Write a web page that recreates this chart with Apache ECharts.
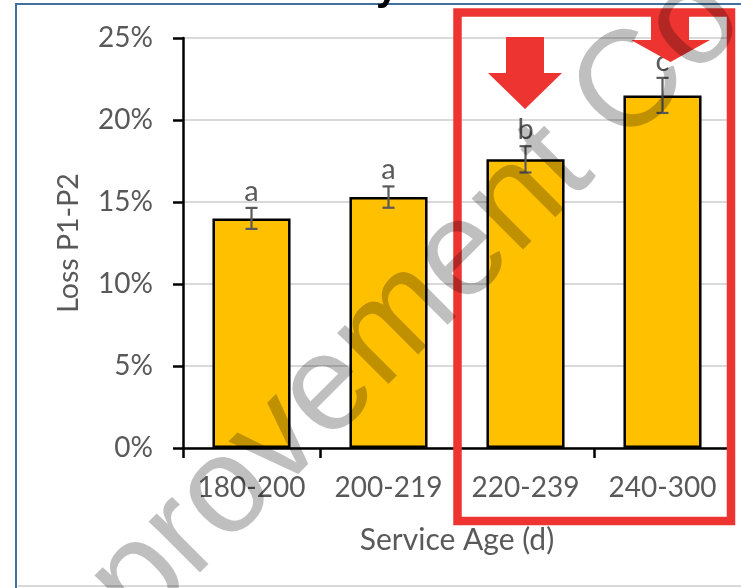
<!DOCTYPE html>
<html>
<head>
<meta charset="utf-8">
<script src="https://cdn.jsdelivr.net/npm/echarts@6/dist/echarts.min.js"></script>
<style>html,body{margin:0;padding:0;background:#fff}#c{width:741px;height:588px}</style>
</head>
<body>
<div id="c"></div>
<script>
const categories = ['180-200', '200-219', '220-239', '240-300'];
const lossValues = [0.140, 0.153, 0.176, 0.215];
const errorValues = [0.0064, 0.0065, 0.0080, 0.0107];
const groupLetters = ['a', 'a', 'b', 'c'];
const yTicks = { min: 0, max: 0.25, interval: 0.05 };
const xAxisTitle = 'Service Age (d)';
const yAxisTitle = 'Loss P1-P2';
const watermarkText = 'Improvement Co';

const txt = '#595959';
const red = '#EE3431';
const chart = echarts.init(document.getElementById('c'));

const errData = categories.map((c, i) => [i, lossValues[i], errorValues[i]]);

chart.setOption({
  animation: false,
  backgroundColor: '#fff',
  grid: { left: 183, right: 10, top: 38, bottom: 140, containLabel: false },
  xAxis: {
    type: 'category',
    data: categories,
    boundaryGap: true,
    axisLine: { lineStyle: { color: '#000', width: 2.5 } },
    axisTick: { show: true, length: 10, interval: 0, lineStyle: { color: '#000', width: 2.5 } },
    axisLabel: { color: txt, fontSize: 28, fontFamily: 'Lato', margin: 26, interval: 0, hideOverlap: false },
    name: xAxisTitle,
    nameLocation: 'middle',
    nameGap: 77,
    nameTextStyle: { color: txt, fontSize: 30, fontFamily: 'Lato' }
  },
  yAxis: {
    type: 'value',
    min: yTicks.min, max: yTicks.max, interval: yTicks.interval,
    axisLine: { show: true, lineStyle: { color: '#000', width: 2.5 } },
    axisTick: { show: true, length: 10, lineStyle: { color: '#000', width: 2.5 } },
    axisLabel: { color: txt, fontSize: 28, fontFamily: 'Lato', margin: 30,
      formatter: v => Math.round(v * 100) + '%' },
    splitLine: { lineStyle: { color: '#d9d9d9', width: 2 } },
    name: yAxisTitle,
    nameLocation: 'middle',
    nameGap: 100,
    nameRotate: 90,
    nameTextStyle: { color: txt, fontSize: 28.5, fontFamily: 'Lato' }
  },
  series: [
    { type: 'bar', data: lossValues, barWidth: '57%',
      itemStyle: { color: '#FFC000', borderColor: '#000', borderWidth: 2.5 }, z: 2 },
    {
      type: 'custom', data: errData, z: 3,
      renderItem: function (params, api) {
        const x = api.value(0), y = api.value(1), e = api.value(2);
        const top = api.coord([x, y + e]);
        const bot = api.coord([x, y - e]);
        const hw = 6;
        const ls = { stroke: '#595959', lineWidth: 2.2 };
        return { type: 'group', children: [
          { type: 'line', shape: { x1: top[0], y1: top[1], x2: bot[0], y2: bot[1] }, style: ls },
          { type: 'line', shape: { x1: top[0] - hw, y1: top[1], x2: top[0] + hw, y2: top[1] }, style: ls },
          { type: 'line', shape: { x1: bot[0] - hw, y1: bot[1], x2: bot[0] + hw, y2: bot[1] }, style: ls },
          { type: 'text', x: top[0], y: top[1] - 2,
            style: { text: groupLetters[params.dataIndex], fill: txt, font: '29px Lato', align: 'center', verticalAlign: 'bottom' } }
        ]};
      }
    }
  ],
  graphic: [
    { type: 'rect', shape: { x: 16, y: 4, width: 900, height: 900 }, style: { fill: 'none', stroke: '#41719C', lineWidth: 2 }, z: 1 },
    { type: 'line', shape: { x1: 18, y1: 586, x2: 741, y2: 586 }, style: { stroke: '#d9d9d9', lineWidth: 2 }, z: 1 },
    { type: 'text', x: 376, y: 9, style: { text: 'y', font: 'bold 40px "Liberation Sans"', fill: '#000', align: 'left', verticalAlign: 'bottom' }, z: 1 },
    { type: 'rect', shape: { x: 457.5, y: 12.5, width: 273.5, height: 508.5 }, style: { fill: 'none', stroke: red, lineWidth: 8.5 }, z: 50 },
    { type: 'polygon', shape: { points: [[506, 37], [544, 37], [544, 73], [562, 73], [525, 109], [488, 73], [506, 73]] }, style: { fill: red }, z: 50 },
    { type: 'polygon', shape: { points: [[651, 12], [689, 12], [689, 40], [710, 40], [670.5, 62], [631, 40], [651, 40]] }, style: { fill: red }, z: 50 },
    { type: 'text', x: 5, y: 714, rotation: Math.PI / 4,
      style: { text: watermarkText, font: '137px "Liberation Sans"', fill: 'rgba(0,0,0,0.25)', align: 'left', verticalAlign: 'middle' }, z: 100 }
  ]
});
</script>
</body>
</html>
